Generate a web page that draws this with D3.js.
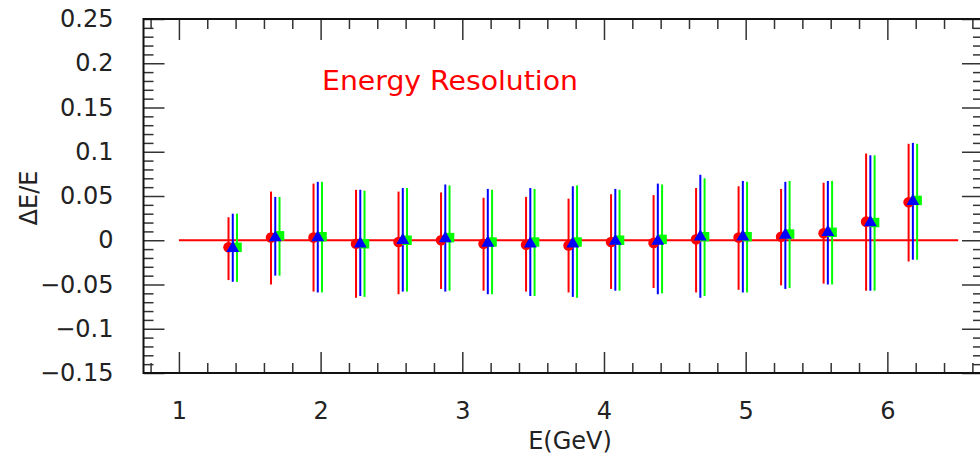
<!DOCTYPE html>
<html>
<head>
<meta charset="utf-8">
<script src="https://cdn.jsdelivr.net/npm/d3@7"></script>
<style>
  body { margin: 0; background: #fff; }
  svg text { font-family: "DejaVu Sans", "Liberation Sans", sans-serif; }
</style>
</head>
<body>
<svg id="chart" width="980" height="458"></svg>
<script>
// data
const energy = [1.38, 1.68, 1.98, 2.28, 2.58, 2.88, 3.18, 3.48, 3.78, 4.08, 4.38, 4.68, 4.98, 5.28, 5.58, 5.88, 6.18];
const redY   = [-0.008, 0.003, 0.003, -0.004, -0.002, 0.000, -0.004, -0.005, -0.006, -0.002, -0.003, 0.001, 0.003, 0.004, 0.008, 0.021, 0.043];
const redHi  = [0.026, 0.055, 0.064, 0.057, 0.055, 0.054, 0.048, 0.049, 0.047, 0.052, 0.051, 0.059, 0.061, 0.058, 0.065, 0.098, 0.109];
const redLo  = [-0.045, -0.050, -0.058, -0.065, -0.061, -0.055, -0.057, -0.058, -0.059, -0.055, -0.054, -0.059, -0.056, -0.051, -0.049, -0.057, -0.024];
const blueY  = [-0.009, 0.003, 0.003, -0.004, 0.000, 0.002, -0.003, -0.004, -0.004, -0.001, -0.001, 0.004, 0.004, 0.006, 0.009, 0.020, 0.044];
const blueHi = [0.030, 0.049, 0.066, 0.057, 0.059, 0.063, 0.058, 0.059, 0.061, 0.058, 0.064, 0.074, 0.067, 0.066, 0.067, 0.096, 0.110];
const blueLo = [-0.047, -0.040, -0.059, -0.063, -0.058, -0.058, -0.061, -0.063, -0.064, -0.057, -0.061, -0.065, -0.059, -0.055, -0.050, -0.057, -0.022];
const greenY  = [-0.008, 0.005, 0.004, -0.004, 0.000, 0.003, -0.002, -0.002, -0.002, 0.000, 0.001, 0.004, 0.004, 0.007, 0.009, 0.020, 0.045];
const greenHi = [0.030, 0.049, 0.066, 0.056, 0.059, 0.062, 0.057, 0.058, 0.062, 0.057, 0.063, 0.070, 0.066, 0.067, 0.067, 0.096, 0.109];
const greenLo = [-0.047, -0.040, -0.059, -0.064, -0.058, -0.057, -0.061, -0.063, -0.065, -0.057, -0.060, -0.063, -0.059, -0.054, -0.050, -0.057, -0.022];

const xTicks = [1, 2, 3, 4, 5, 6];
const xTickLabels = ['1', '2', '3', '4', '5', '6'];
const yTicks = [0.25, 0.2, 0.15, 0.1, 0.05, 0, -0.05, -0.1, -0.15];
const yTickLabels = ['0.25', '0.2', '0.15', '0.1', '0.05', '0', '\u22120.05', '\u22120.1', '\u22120.15'];
const zeroLine = [1, 6.5];

const svg = d3.select('#chart');
const L = 143.5, R = 983, T = 19, B = 373;
const x = d3.scaleLinear().domain([0.75, 6.675]).range([L, R]);
const y = d3.scaleLinear().domain([-0.15, 0.25]).range([B, T]);

// minor tick positions
const xMinor = d3.range(0.8, 6.7, 0.2).map(v => +v.toFixed(1)).filter(v => Math.abs(v - Math.round(v)) > 1e-6);
const yMinor = d3.range(-0.15, 0.2501, 0.01).map(v => +v.toFixed(2)).filter(v => Math.abs(v * 20 - Math.round(v * 20)) > 1e-6);

function styleAxis(g) {
    g.select('.domain').remove();
    g.selectAll('.tick line').attr('stroke', '#333').attr('stroke-width', 1.5);
    g.selectAll('.tick text').attr('font-size', 24).attr('fill', '#222');
}
// left axis
svg.append('g').attr('transform', `translate(${L},0)`)
    .call(d3.axisLeft(y).tickValues(yTicks).tickSize(-21).tickPadding(30).tickFormat((d, i) => yTickLabels[i]))
    .call(styleAxis);
svg.append('g').attr('transform', `translate(${L},0)`)
    .call(d3.axisLeft(y).tickValues(yMinor).tickSize(-10).tickFormat(''))
    .call(styleAxis);
// right axis
svg.append('g').attr('transform', `translate(${R},0)`)
    .call(d3.axisRight(y).tickValues(yTicks).tickSize(-21).tickFormat(''))
    .call(styleAxis);
svg.append('g').attr('transform', `translate(${R},0)`)
    .call(d3.axisRight(y).tickValues(yMinor).tickSize(-10).tickFormat(''))
    .call(styleAxis);
// bottom axis
svg.append('g').attr('transform', `translate(0,${B})`)
    .call(d3.axisBottom(x).tickValues(xTicks).tickSize(-21).tickPadding(29).tickFormat((d, i) => xTickLabels[i]))
    .call(styleAxis);
svg.append('g').attr('transform', `translate(0,${B})`)
    .call(d3.axisBottom(x).tickValues(xMinor).tickSize(-10).tickFormat(''))
    .call(styleAxis);
// top axis
svg.append('g').attr('transform', `translate(0,${T})`)
    .call(d3.axisTop(x).tickValues(xTicks).tickSize(-21).tickFormat(''))
    .call(styleAxis);
svg.append('g').attr('transform', `translate(0,${T})`)
    .call(d3.axisTop(x).tickValues(xMinor).tickSize(-10).tickFormat(''))
    .call(styleAxis);

// frame
svg.append('rect').attr('x', L).attr('y', T).attr('width', R - L).attr('height', B - T)
    .attr('fill', 'none').attr('stroke', '#111').attr('stroke-width', 2);

// zero reference line
svg.append('line').attr('x1', x(zeroLine[0])).attr('x2', x(zeroLine[1]))
    .attr('y1', y(0)).attr('y2', y(0)).attr('stroke', '#ff0000').attr('stroke-width', 2);

// series
const series = [
    { color: '#ff0000', dx: -0.03, ys: redY, hi: redHi, lo: redLo, shape: 'circle' },
    { color: '#00ff00', dx: 0.03, ys: greenY, hi: greenHi, lo: greenLo, shape: 'square' },
    { color: '#0000ff', dx: 0, ys: blueY, hi: blueHi, lo: blueLo, shape: 'triangle' }
];
const sym = { circle: d3.symbolCircle, square: d3.symbolSquare, triangle: d3.symbolTriangle };
const symSize = { circle: 88, square: 90, triangle: 72 };

series.forEach(s => {
    const g = svg.append('g');
    energy.forEach((e, i) => {
        const cx = x(e + s.dx);
        g.append('line').attr('x1', cx).attr('x2', cx).attr('y1', y(s.hi[i])).attr('y2', y(s.lo[i]))
            .attr('stroke', s.color).attr('stroke-width', 2);
    });
});
series.forEach(s => {
    const g = svg.append('g');
    energy.forEach((e, i) => {
        g.append('path').attr('d', d3.symbol().type(sym[s.shape]).size(symSize[s.shape])())
            .attr('transform', `translate(${x(e + s.dx)},${y(s.ys[i])})`)
            .attr('fill', s.color);
    });
});

// labels
svg.append('text').attr('x', 322).attr('y', 90).attr('font-size', 26).attr('fill', '#ff0000')
    .attr('textLength', 256).attr('lengthAdjust', 'spacingAndGlyphs').text('Energy Resolution');
svg.append('text').attr('x', 570).attr('y', 449).attr('text-anchor', 'middle').attr('font-size', 24)
    .attr('fill', '#222').text('E(GeV)');
svg.append('text').attr('transform', 'translate(37,198) rotate(-90)').attr('text-anchor', 'middle')
    .attr('font-size', 24).attr('fill', '#222').text('\u0394E/E');
</script>
</body>
</html>
